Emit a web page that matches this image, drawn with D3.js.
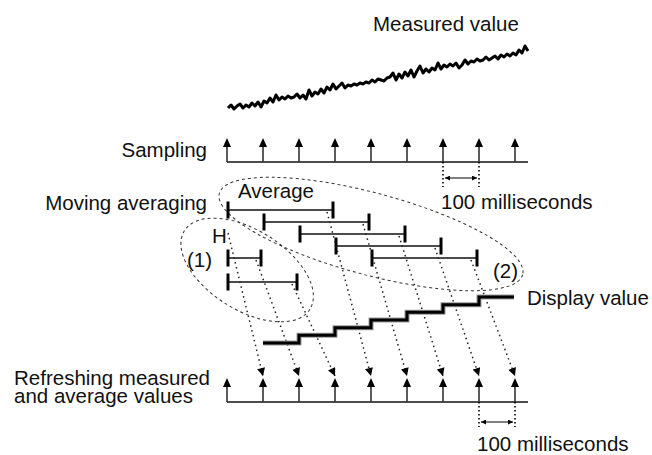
<!DOCTYPE html>
<html>
<head>
<meta charset="utf-8">
<script src="https://cdn.jsdelivr.net/npm/d3@7"></script>
<style>
  body { margin: 0; background: #fff; }
  text { font-family: "Liberation Sans", Arial, Helvetica, sans-serif; fill: #111; }
</style>
</head>
<body>
<script>
// measured signal, one reading every 3px of the trace
var measured = [2,5,1,4,6,2,5,3,7,4,8,3,9,7,12,8,15,10,13,11,14,12,13,16,12,15,11,20,14,18,
  16,21,17,23,20,26,21,24,27,22,25,24,26,25,27,26,28,27,30,28,31,30,29,32,33,37,30,36,32,38,
  34,40,33,39,44,37,41,38,42,40,47,41,45,43,46,44,47,42,45,50,46,49,48,51,49,50,53,50,52,54,
  51,55,53,56,54,57,55,60,57,64,59];

var sampleTimes = [0, 1, 2, 3, 4, 5, 6, 7, 8];
var refreshTimes = [0, 1, 2, 3, 4, 5, 6, 7, 8];

// moving average windows (sample index start/end, row)
var avgStart = [0, 1, 2, 3, 4];
var avgEnd = [3, 4, 5, 6, 7];
// first windows, while buffer is filling
var partStart = [0, 0];
var partEnd = [1, 2];

// display value level at each refresh
var displayTimes = [1, 2, 3, 4, 5, 6, 7];
var displayValues = [0, 1, 2, 3, 4, 5, 6];

var width = 652, height = 455;

var svg = d3.select("body").append("svg")
  .attr("width", width).attr("height", height);

var defs = svg.append("defs");
defs.append("marker").attr("id", "dn")
  .attr("viewBox", "0 0 10 10").attr("refX", 10).attr("refY", 5)
  .attr("markerWidth", 9).attr("markerHeight", 8)
  .attr("markerUnits", "userSpaceOnUse").attr("orient", "auto")
  .append("path").attr("d", "M0,0L10,5L0,10z").attr("fill", "#000");
defs.append("marker").attr("id", "sm")
  .attr("viewBox", "0 0 10 10").attr("refX", 10).attr("refY", 5)
  .attr("markerWidth", 6).attr("markerHeight", 5)
  .attr("markerUnits", "userSpaceOnUse").attr("orient", "auto-start-reverse")
  .append("path").attr("d", "M0,0L10,5L0,10z").attr("fill", "#000");

var x = d3.scaleLinear().domain([0, 8]).range([227, 515]);
var xm = d3.scaleLinear().domain([0, measured.length - 1]).range([228, 528]);
var ym = d3.scaleLinear().domain([0, 60]).range([110, 50]);
var rowY = d3.scaleLinear().domain([0, 4]).range([210, 258]);
var partY = d3.scaleLinear().domain([0, 1]).range([258, 282]);
var yd = d3.scaleLinear().domain([0, 6]).range([343, 297]);

var axisEnd = x.invert(528);

// ---- measured value
svg.append("text").attr("x", 373).attr("y", 31).attr("font-size", 20.5).text("Measured value");
svg.append("path")
  .datum(measured)
  .attr("d", d3.line().x((d, i) => xm(i)).y(d => ym(d)))
  .attr("fill", "none").attr("stroke", "#000").attr("stroke-width", 3)
  .attr("stroke-linejoin", "round");

// up-arrow time axis
function timeAxis(yBase, times, label) {
  var g = svg.append("g");
  g.append("line").attr("x1", x(0)).attr("x2", x(axisEnd))
    .attr("y1", yBase).attr("y2", yBase).attr("stroke", "#111").attr("stroke-width", 1.5);
  g.selectAll(".stem").data(times).enter().append("line")
    .attr("x1", d => x(d)).attr("x2", d => x(d))
    .attr("y1", yBase).attr("y2", yBase - 18)
    .attr("stroke", "#333").attr("stroke-width", 1.6);
  g.selectAll(".head").data(times).enter().append("path")
    .attr("d", d => "M" + x(d) + "," + (yBase - 24) + "l-4,9h8z")
    .attr("fill", "#000");
  return g;
}

timeAxis(162, sampleTimes);
svg.append("text").attr("x", 207).attr("y", 157).attr("text-anchor", "end")
  .attr("font-size", 20.5).text("Sampling");

// 100 ms markers
function interval(t0, t1, yBase, yArrow, ty) {
  [t0, t1].forEach(t => {
    svg.append("line").attr("x1", x(t)).attr("x2", x(t))
      .attr("y1", yBase).attr("y2", yBase + 25)
      .attr("stroke", "#000").attr("stroke-width", 1.6).attr("stroke-dasharray", "1.6,2.4");
  });
  svg.append("line").attr("x1", x(t0) + 2).attr("x2", x(t1) - 2)
    .attr("y1", yArrow).attr("y2", yArrow)
    .attr("stroke", "#000").attr("stroke-width", 1)
    .attr("marker-start", "url(#sm)").attr("marker-end", "url(#sm)");
  svg.append("text").attr("x", x(t0) - 2).attr("y", ty).attr("font-size", 20.5)
    .text("100 milliseconds");
}
interval(6, 7, 162, 178, 209);

// ---- moving averaging
svg.append("text").attr("x", 207).attr("y", 210).attr("text-anchor", "end")
  .attr("font-size", 20.5).text("Moving averaging");
svg.append("text").attr("x", 238).attr("y", 198).attr("font-size", 20.5).text("Average");
svg.append("text").attr("x", 212).attr("y", 243).attr("font-size", 20.5).text("H");
svg.append("text").attr("x", 187).attr("y", 267).attr("font-size", 20.5).text("(1)");
svg.append("text").attr("x", 493).attr("y", 278).attr("font-size", 20.5).text("(2)");

// dashed groupings
svg.append("ellipse")
  .attr("transform", "translate(" + x(4) + "," + rowY(2) + ") rotate(15)")
  .attr("rx", 157).attr("ry", 41)
  .attr("fill", "none").attr("stroke", "#333").attr("stroke-width", 1)
  .attr("stroke-dasharray", "3,3");
svg.append("ellipse")
  .attr("transform", "translate(" + x(0.56) + "," + (partY(0.5)) + ") rotate(32)")
  .attr("rx", 74).attr("ry", 40)
  .attr("fill", "none").attr("stroke", "#333").attr("stroke-width", 1)
  .attr("stroke-dasharray", "3,3");

function bars(starts, ends, yf) {
  var g = svg.append("g");
  starts.forEach((s, i) => {
    var y = yf(i), x0 = x(s) + 1, x1 = x(ends[i]) - 2;
    g.append("line").attr("x1", x0).attr("x2", x1).attr("y1", y).attr("y2", y)
      .attr("stroke", "#111").attr("stroke-width", 1.5);
    [x0, x1].forEach(xx => {
      g.append("line").attr("x1", xx).attr("x2", xx).attr("y1", y - 8.5).attr("y2", y + 8.5)
        .attr("stroke", "#000").attr("stroke-width", 3);
    });
  });
}
bars(avgStart, avgEnd, rowY);
bars(partStart, partEnd, partY);

// ---- dotted lines to refresh arrows
var yTip = 376;
var links = [{ sx: x(0) + 1, sy: 233, t: 1 }];
partEnd.forEach((e, i) => links.push({ sx: x(e) - 7, sy: partY(i) + 2, t: e + 1 }));
avgEnd.forEach((e, i) => links.push({ sx: x(e) - 8, sy: rowY(i) + 2, t: e + 1 }));

svg.append("g").selectAll("line").data(links).enter().append("line")
  .attr("x1", d => d.sx).attr("y1", d => d.sy)
  .attr("x2", d => x(d.t)).attr("y2", yTip)
  .attr("stroke", "#222").attr("stroke-width", 1.5)
  .attr("stroke-dasharray", "1.5,3.5")
  .attr("marker-end", "url(#dn)");

// ---- display value
var disp = displayTimes.map((t, i) => [x(t), yd(displayValues[i])]);
disp.push([x(8) - 1, yd(displayValues[displayValues.length - 1])]);
var stepLine = d3.line().curve(d3.curveStepAfter);
svg.append("path").attr("d", stepLine(disp))
  .attr("fill", "none").attr("stroke", "#999").attr("stroke-width", 5);
svg.append("path").attr("d", stepLine(disp))
  .attr("fill", "none").attr("stroke", "#000").attr("stroke-width", 3);
svg.append("text").attr("x", 527).attr("y", 305).attr("font-size", 20.5).text("Display value");

// ---- refresh axis
timeAxis(402, refreshTimes);
svg.append("text").attr("x", 14).attr("y", 385).attr("font-size", 20.5).text("Refreshing measured");
svg.append("text").attr("x", 14).attr("y", 403).attr("font-size", 20.5).text("and average values");
interval(7, 8, 402, 422, 451);
</script>
</body>
</html>
